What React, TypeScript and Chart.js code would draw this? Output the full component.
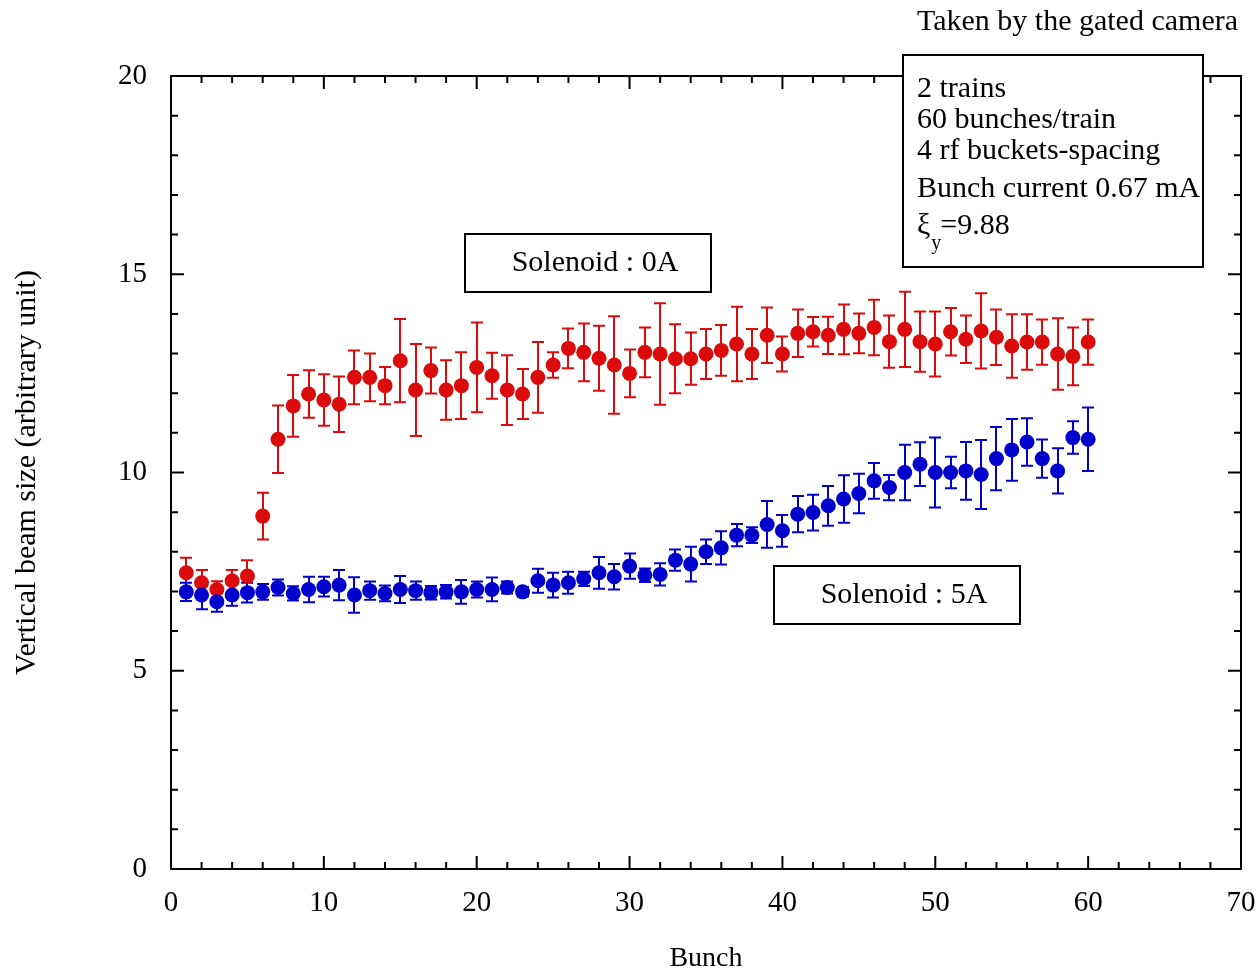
import React, { useEffect, useRef } from "react";
import { Chart, registerables } from "chart.js";
Chart.register(...registerables);

const bunches = [
  1, 2, 3, 4, 5, 6, 7, 8, 9, 10, 11, 12, 13, 14, 15, 16, 17, 18, 19, 20,
  21, 22, 23, 24, 25, 26, 27, 28, 29, 30, 31, 32, 33, 34, 35, 36, 37, 38, 39, 40,
  41, 42, 43, 44, 45, 46, 47, 48, 49, 50, 51, 52, 53, 54, 55, 56, 57, 58, 59, 60,
];

const solenoid0A = [
  7.47, 7.22, 7.05, 7.27, 7.39, 8.9, 10.84, 11.68, 11.98, 11.83,
  11.72, 12.4, 12.4, 12.19, 12.82, 12.08, 12.57, 12.08, 12.19, 12.65,
  12.44, 12.08, 11.98, 12.4, 12.71, 13.13, 13.03, 12.88, 12.71, 12.5,
  13.03, 12.99, 12.87, 12.87, 12.99, 13.08, 13.24, 12.99, 13.46, 12.99,
  13.51, 13.55, 13.46, 13.61, 13.51, 13.66, 13.3, 13.61, 13.3, 13.24,
  13.55, 13.36, 13.57, 13.41, 13.19, 13.29, 13.29, 12.99, 12.93, 13.29,
];
const solenoid0AErr = [
  0.38, 0.32, 0.21, 0.27, 0.4, 0.59, 0.85, 0.78, 0.6, 0.65,
  0.7, 0.68, 0.6, 0.47, 1.05, 1.16, 0.58, 0.75, 0.84, 1.13,
  0.58, 0.88, 0.63, 0.89, 0.32, 0.5, 0.73, 0.82, 1.23, 0.6,
  0.63, 1.28, 0.87, 0.66, 0.63, 0.64, 0.94, 0.63, 0.7, 0.44,
  0.6, 0.37, 0.47, 0.63, 0.5, 0.7, 0.66, 0.95, 0.76, 0.82,
  0.6, 0.6, 0.95, 0.7, 0.8, 0.7, 0.57, 0.9, 0.73, 0.57,
];

const solenoid5A = [
  6.99, 6.91, 6.74, 6.91, 6.97, 6.99, 7.1, 6.95, 7.05, 7.12,
  7.16, 6.91, 7.02, 6.95, 7.05, 7.02, 6.97, 6.99, 6.99, 7.05,
  7.05, 7.1, 6.99, 7.27, 7.16, 7.22, 7.32, 7.47, 7.37, 7.64,
  7.41, 7.43, 7.79, 7.69, 8.0, 8.1, 8.42, 8.42, 8.69, 8.53,
  8.95, 8.99, 9.16, 9.33, 9.47, 9.79, 9.62, 10.0, 10.21, 10.0,
  10.0, 10.04, 9.95, 10.35, 10.57, 10.77, 10.35, 10.04, 10.88, 10.84,
];
const solenoid5AErr = [
  0.23, 0.36, 0.25, 0.27, 0.25, 0.2, 0.2, 0.18, 0.32, 0.25,
  0.38, 0.45, 0.23, 0.2, 0.34, 0.23, 0.17, 0.17, 0.3, 0.2,
  0.3, 0.15, 0.12, 0.3, 0.31, 0.28, 0.18, 0.4, 0.32, 0.32,
  0.17, 0.28, 0.27, 0.44, 0.31, 0.42, 0.28, 0.2, 0.59, 0.4,
  0.46, 0.45, 0.5, 0.6, 0.5, 0.45, 0.32, 0.7, 0.55, 0.88,
  0.4, 0.73, 0.87, 0.8, 0.78, 0.6, 0.48, 0.57, 0.41, 0.8,
];

const xTickValues = [0, 10, 20, 30, 40, 50, 60, 70];
const yTickValues = [0, 5, 10, 15, 20];

const titleText = "Taken by the gated camera";
const infoLines = ["2 trains", "60 bunches/train", "4 rf buckets-spacing", "Bunch current 0.67 mA"];
const xiValue = "=9.88";
const label0A = "Solenoid : 0A";
const label5A = "Solenoid : 5A";

const RED = "#dc0b0b";
const BLUE = "#0000cc";
const FONT = "'Liberation Serif', 'Times New Roman', serif";

const errorBarsPlugin = {
  id: "errorBars",
  beforeDatasetsDraw(chart: any) {
    const ctx = chart.ctx;
    const xs = chart.scales.x;
    const ys = chart.scales.y;
    const sets = [
      { v: solenoid0A, e: solenoid0AErr, c: RED },
      { v: solenoid5A, e: solenoid5AErr, c: BLUE },
    ];
    ctx.save();
    ctx.lineWidth = 2;
    for (const s of sets) {
      ctx.strokeStyle = s.c;
      bunches.forEach((b, i) => {
        const px = Math.round(xs.getPixelForValue(b));
        const top = ys.getPixelForValue(s.v[i] + s.e[i]);
        const bot = ys.getPixelForValue(s.v[i] - s.e[i]);
        ctx.beginPath();
        ctx.moveTo(px, top);
        ctx.lineTo(px, bot);
        ctx.moveTo(px - 6, top);
        ctx.lineTo(px + 6, top);
        ctx.moveTo(px - 6, bot);
        ctx.lineTo(px + 6, bot);
        ctx.stroke();
      });
    }
    ctx.restore();
  },
};

const framePlugin = {
  id: "frame",
  afterDraw(chart: any) {
    const ctx = chart.ctx;
    const xs = chart.scales.x;
    const ys = chart.scales.y;
    const a = chart.chartArea;
    ctx.save();
    ctx.strokeStyle = "#000";
    ctx.lineWidth = 2;
    ctx.beginPath();
    ctx.rect(a.left, a.top, a.right - a.left, a.bottom - a.top);
    ctx.stroke();
    ctx.beginPath();
    for (let v = 0; v <= 70; v += 2) {
      const px = xs.getPixelForValue(v);
      const len = v % 10 === 0 ? 13 : 7;
      ctx.moveTo(px, a.bottom);
      ctx.lineTo(px, a.bottom - len);
      ctx.moveTo(px, a.top);
      ctx.lineTo(px, a.top + len);
    }
    for (let v = 0; v <= 20; v += 1) {
      const py = ys.getPixelForValue(v);
      const len = v % 5 === 0 ? 13 : 7;
      ctx.moveTo(a.left, py);
      ctx.lineTo(a.left + len, py);
      ctx.moveTo(a.right, py);
      ctx.lineTo(a.right - len, py);
    }
    ctx.stroke();

    // annotations
    ctx.fillStyle = "#000";
    ctx.font = `30px ${FONT}`;
    ctx.textBaseline = "middle";
    ctx.textAlign = "right";
    ctx.fillText(titleText, 1238, 22);

    // info box
    ctx.fillStyle = "#fff";
    ctx.fillRect(903, 55, 300, 212);
    ctx.lineWidth = 2;
    ctx.strokeRect(903, 55, 300, 212);
    ctx.fillStyle = "#000";
    ctx.textAlign = "left";
    ctx.font = `30px ${FONT}`;
    const ys2 = [89, 120, 151, 189];
    infoLines.forEach((t, i) => ctx.fillText(t, 917, ys2[i]));
    ctx.fillText("\u03be", 917, 226);
    const xiW = ctx.measureText("\u03be").width;
    ctx.font = `20px ${FONT}`;
    ctx.fillText("y", 917 + xiW + 1, 244);
    ctx.font = `30px ${FONT}`;
    ctx.fillText(xiValue, 917 + xiW + 10, 226);

    // solenoid boxes
    const box = (x: number, y: number, w: number, h: number, t: string) => {
      ctx.fillStyle = "#fff";
      ctx.fillRect(x, y, w, h);
      ctx.strokeRect(x, y, w, h);
      ctx.fillStyle = "#000";
      ctx.textAlign = "center";
      ctx.fillText(t, x + w / 2 + 7, y + h / 2);
    };
    box(465, 234, 246, 58, label0A);
    box(774, 566, 246, 58, label5A);
    ctx.restore();
  },
};

export default function App() {
  const ref = useRef<HTMLCanvasElement | null>(null);
  useEffect(() => {
    document.body.style.margin = "0";
    const canvas = ref.current!;
    const chart = new Chart(canvas, {
      type: "scatter",
      data: {
        datasets: [
          {
            label: "Solenoid : 5A",
            data: bunches.map((b, i) => ({ x: b, y: solenoid5A[i] })),
            backgroundColor: BLUE,
            borderColor: BLUE,
            pointRadius: 7.5,
            pointBorderWidth: 0,
            pointHoverRadius: 7.5,
            order: 0,
          },
          {
            label: "Solenoid : 0A",
            data: bunches.map((b, i) => ({ x: b, y: solenoid0A[i] })),
            backgroundColor: RED,
            borderColor: RED,
            pointRadius: 7.5,
            pointBorderWidth: 0,
            pointHoverRadius: 7.5,
            order: 1,
          },
        ],
      },
      options: {
        responsive: false,
        animation: false,
        devicePixelRatio: 1,
        layout: { padding: { top: 76, right: 19, left: 0, bottom: 0 } },
        plugins: { legend: { display: false }, tooltip: { enabled: false } },
        scales: {
          x: {
            type: "linear",
            min: 0,
            max: 70,
            afterBuildTicks: (s: any) => {
              s.ticks = xTickValues.map((v) => ({ value: v }));
            },
            afterFit: (s: any) => {
              s.height = 106;
              s.paddingLeft = 0;
              s.paddingRight = 0;
              s.paddingTop = 0;
              s.paddingBottom = 0;
            },
            grid: { display: false, drawTicks: false },
            border: { display: false },
            ticks: { color: "#000", font: { family: FONT, size: 29 }, padding: 17, maxRotation: 0 },
            title: { display: true, text: "Bunch", color: "#000", font: { family: FONT, size: 28 }, padding: { top: 0, bottom: 0 } },
          },
          y: {
            type: "linear",
            min: 0,
            max: 20,
            afterBuildTicks: (s: any) => {
              s.ticks = yTickValues.map((v) => ({ value: v }));
            },
            afterFit: (s: any) => {
              s.width = 171;
              s.paddingTop = 0;
              s.paddingBottom = 0;
              s.paddingLeft = 0;
              s.paddingRight = 0;
            },
            grid: { display: false, drawTicks: false },
            border: { display: false },
            ticks: { color: "#000", font: { family: FONT, size: 29 }, padding: 24 },
            title: { display: true, text: "Vertical beam size (arbitrary unit)", color: "#000", font: { family: FONT, size: 30 }, padding: { top: 9, bottom: 0 } },
          },
        },
      },
      plugins: [errorBarsPlugin, framePlugin],
    });
    return () => chart.destroy();
  }, []);
  return (
    <div style={{ width: 1260, height: 975, background: "#fff" }}>
      <canvas ref={ref} width={1260} height={975} style={{ width: 1260, height: 975, display: "block" }} />
    </div>
  );
}
